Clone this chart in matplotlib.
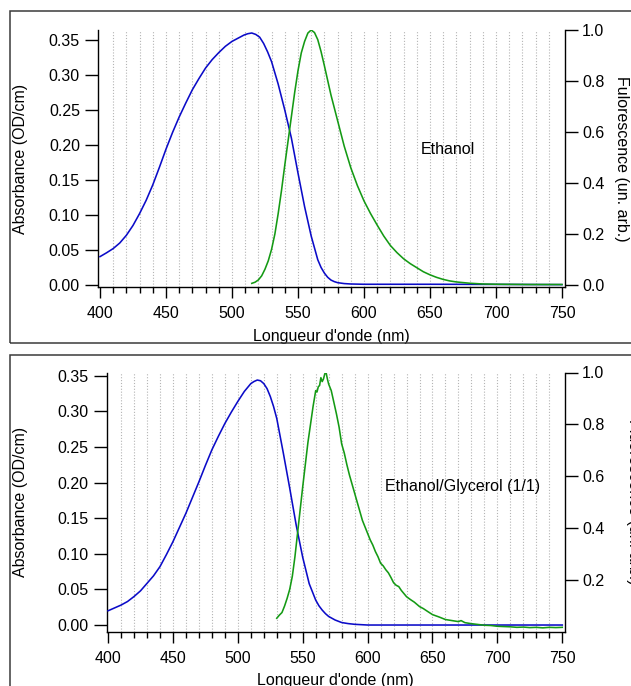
import matplotlib
matplotlib.use("Agg")
import matplotlib.pyplot as plt
from matplotlib.ticker import MultipleLocator, FixedLocator, FormatStrFormatter
from matplotlib.patches import Rectangle

# ---------------- data ----------------
# Panel 1 : Ethanol
wl_abs_eth = [400, 405, 410, 415, 420, 425, 430, 435, 440, 445, 450, 455, 460, 465, 470, 475,
              480, 485, 490, 495, 500, 503, 506, 509, 512, 515, 518, 521, 524, 527, 530, 535,
              540, 545, 550, 555, 560, 565, 567.5, 570, 572.5, 575, 577.5, 580, 585, 590, 600,
              650, 700, 750]
abs_eth = [0.0405, 0.046, 0.052, 0.060, 0.071, 0.085, 0.102, 0.121, 0.143, 0.168, 0.194, 0.218,
           0.240, 0.260, 0.279, 0.295, 0.310, 0.322, 0.332, 0.341, 0.348, 0.351, 0.354, 0.357,
           0.359, 0.360, 0.358, 0.354, 0.345, 0.333, 0.319, 0.287, 0.250, 0.210, 0.160, 0.112,
           0.070, 0.036, 0.025, 0.017, 0.011, 0.007, 0.0048, 0.0033, 0.002, 0.0014, 0.001,
           0.001, 0.0008, 0.0005]

wl_fluo_eth = [515, 517.5, 520, 522.5, 525, 527.5, 530, 532.5, 535, 537.5, 540, 542.5, 545,
               547.5, 550, 552.5, 555, 557.5, 560, 562.5, 565, 567.5, 570, 575, 580, 585, 590,
               595, 600, 605, 610, 615, 620, 625, 630, 635, 640, 645, 650, 655, 660, 665, 670,
               680, 690, 700, 725, 750]
fluo_eth = [0.0065, 0.011, 0.02, 0.036, 0.062, 0.095, 0.14, 0.20, 0.28, 0.37, 0.47, 0.565, 0.66,
            0.755, 0.84, 0.91, 0.955, 0.988, 1.0, 0.99, 0.962, 0.915, 0.86, 0.745, 0.645, 0.545,
            0.46, 0.39, 0.33, 0.28, 0.235, 0.192, 0.155, 0.127, 0.103, 0.084, 0.068, 0.052,
            0.04, 0.03, 0.022, 0.016, 0.012, 0.007, 0.004, 0.003, 0.002, 0.002]

# Panel 2 : Ethanol/Glycerol (1/1)
wl_abs_gly = [400, 405, 410, 415, 420, 425, 430, 435, 440, 445, 450, 455, 460, 465, 470, 475,
              480, 485, 490, 495, 500, 505, 510, 512.5, 515, 517.5, 520, 522.5, 525, 527.5,
              530, 535, 540, 545, 550, 555, 560, 562.5, 565, 567.5, 570, 575, 580, 585, 590,
              600, 750]
abs_gly = [0.020, 0.024, 0.028, 0.033, 0.040, 0.048, 0.0585, 0.069, 0.082, 0.099, 0.117, 0.137,
           0.157, 0.179, 0.201, 0.224, 0.246, 0.265, 0.283, 0.299, 0.314, 0.328, 0.339, 0.342,
           0.344, 0.343, 0.339, 0.332, 0.321, 0.307, 0.290, 0.242, 0.192, 0.140, 0.095, 0.058,
           0.035, 0.027, 0.021, 0.016, 0.012, 0.007, 0.0035, 0.002, 0.001, 0.0, 0.0]

wl_fluo_gly = [530, 532, 534, 536, 538, 540, 542, 544, 546, 548, 550, 552, 554, 556, 558, 560,
               561, 562, 563, 564, 565, 566, 567, 568, 569, 570, 572, 574, 576, 578, 580, 582,
               584, 586, 588, 590, 592, 594, 596, 598, 600, 602, 604, 606, 608, 610, 612, 614,
               616, 618, 620, 622, 624, 626, 628, 630, 633, 636, 640, 643, 646, 650, 655, 660,
               665, 670, 672, 675, 680, 685, 690, 695, 700, 705, 710, 715, 720, 725, 730, 735,
               740, 745, 750]
fluo_gly = [0.053, 0.065, 0.075, 0.10, 0.13, 0.165, 0.215, 0.29, 0.38, 0.47, 0.56, 0.645, 0.73,
            0.80, 0.87, 0.93, 0.925, 0.945, 0.95, 0.98, 0.965, 0.975, 0.995, 1.0, 0.975, 0.955,
            0.93, 0.885, 0.84, 0.79, 0.725, 0.69, 0.645, 0.605, 0.57, 0.535, 0.50, 0.465, 0.43,
            0.405, 0.38, 0.355, 0.335, 0.31, 0.29, 0.265, 0.255, 0.24, 0.228, 0.21, 0.19, 0.18,
            0.175, 0.16, 0.148, 0.136, 0.125, 0.115, 0.098, 0.09, 0.08, 0.067, 0.058, 0.048,
            0.044, 0.040, 0.044, 0.036, 0.032, 0.029, 0.026, 0.025, 0.022, 0.021, 0.020, 0.018,
            0.019, 0.017, 0.018, 0.016, 0.018, 0.017, 0.018]

x_major = [400, 450, 500, 550, 600, 650, 700, 750]
abs_ticks = [0.00, 0.05, 0.10, 0.15, 0.20, 0.25, 0.30, 0.35]
fluo_ticks_1 = [0.0, 0.2, 0.4, 0.6, 0.8, 1.0]
fluo_ticks_2 = [0.2, 0.4, 0.6, 0.8, 1.0]

xlabel = "Longueur d'onde (nm)"
ylabel_left = "Absorbance (OD/cm)"
ylabel_right_1 = "Fulorescence (un. arb.)"
ylabel_right_2 = "Fluorescence (un. arb.)"
title_1 = "Ethanol"
title_2 = "Ethanol/Glycerol (1/1)"

# ---------------- style ----------------
plt.rcParams['font.family'] = ['Liberation Sans', 'DejaVu Sans']
FS = 11.5
BLUE = '#0b0bc8'
GREEN = '#149a14'
W, H = 631, 686
fig = plt.figure(figsize=(W / 100, H / 100), dpi=100)


def fx(px):
    return px / W


def fy(py):
    return 1 - py / H


def panel(left, right, top, bottom, xlim, ylim_l, ylim_r, wl_a, a, wl_f, f, fticks,
          rlabel, rlabel_x, title, title_xy, ylab_x, xlab_xy):
    ax = fig.add_axes([fx(left), fy(bottom), fx(right - left), (bottom - top) / H])
    ax2 = ax.twinx()
    ax.set_xlim(*xlim)
    ax2.set_xlim(*xlim)
    ax.set_ylim(*ylim_l)
    ax2.set_ylim(*ylim_r)
    ax.plot(wl_a, a, color=BLUE, lw=1.15, zorder=3)
    ax2.plot(wl_f, f, color=GREEN, lw=1.15, zorder=3)

    for a_ in (ax, ax2):
        a_.spines['top'].set_visible(False)
        for s in a_.spines.values():
            s.set_linewidth(1.0)
    ax.spines['right'].set_visible(False)
    ax2.spines['left'].set_visible(False)
    ax2.spines['bottom'].set_visible(False)

    ax.xaxis.set_major_locator(FixedLocator(x_major))
    ax.xaxis.set_minor_locator(MultipleLocator(10))
    ax.yaxis.set_major_locator(FixedLocator(abs_ticks))
    ax.yaxis.set_major_formatter(FormatStrFormatter('%.2f'))
    ax2.yaxis.set_major_locator(FixedLocator(fticks))
    ax2.yaxis.set_major_formatter(FormatStrFormatter('%.1f'))

    ax.tick_params(axis='x', which='major', direction='out', length=8, width=1.0,
                   labelsize=FS, pad=6)
    ax.tick_params(axis='x', which='minor', direction='out', length=4.3, width=1.0)
    ax.tick_params(axis='y', which='major', direction='out', length=9.2, width=1.0,
                   labelsize=FS, pad=3.8)
    ax.tick_params(axis='y', which='minor', left=False)
    ax2.tick_params(axis='y', which='major', direction='out', length=9.0, width=1.0,
                    labelsize=FS, pad=3.4)

    ax.grid(True, which='both', axis='x', color='#b4b4b4', lw=0.8, linestyle=(0, (1, 1.6)))
    gl = ax.xaxis.get_gridlines()
    gl[0].set_visible(False)
    gl[-1].set_visible(False)
    ax.set_axisbelow(True)

    ax.set_xlabel(xlabel, fontsize=FS, va='center')
    ax.xaxis.set_label_coords((xlab_xy[0] - left) / (right - left),
                              (bottom - xlab_xy[1]) / (bottom - top))
    ax.set_ylabel(ylabel_left, fontsize=FS, va='center')
    ax.yaxis.set_label_coords((ylab_x - left) / (right - left), 0.5)
    ax2.set_ylabel(rlabel, fontsize=FS, rotation=270, va='center')
    ax2.yaxis.set_label_coords((rlabel_x - left) / (right - left), 0.5)

    ax.text((title_xy[0] - left) / (right - left), (bottom - title_xy[1]) / (bottom - top),
            title, transform=ax.transAxes, ha='center', va='center', fontsize=FS)
    return ax, ax2


panel(98, 565, 30, 287, (398.5, 752.3), (-0.0029, 0.3643), (-0.0078, 1.0),
      wl_abs_eth, abs_eth, wl_fluo_eth, fluo_eth, fluo_ticks_1,
      ylabel_right_1, 622, title_1, (448.3, 150), 21, (331, 336))

panel(106.5, 565, 372.5, 632, (398.8, 752.1), (-0.0098, 0.3546), (0.0, 1.0),
      wl_abs_gly, abs_gly, wl_fluo_gly, fluo_gly, fluo_ticks_2,
      ylabel_right_2, 633, title_2, (463, 486), 21, (335.7, 680))

# panel frames
for (x0, y0, y1) in ((10, 10.5, 343), (10, 354.5, 700)):
    fig.patches.append(Rectangle((fx(x0), fy(y1)), fx(700 - x0), (y1 - y0) / H,
                                 transform=fig.transFigure, fill=False,
                                 edgecolor='#3a3a3a', lw=1.1))

fig.savefig('out.png', dpi=100)
